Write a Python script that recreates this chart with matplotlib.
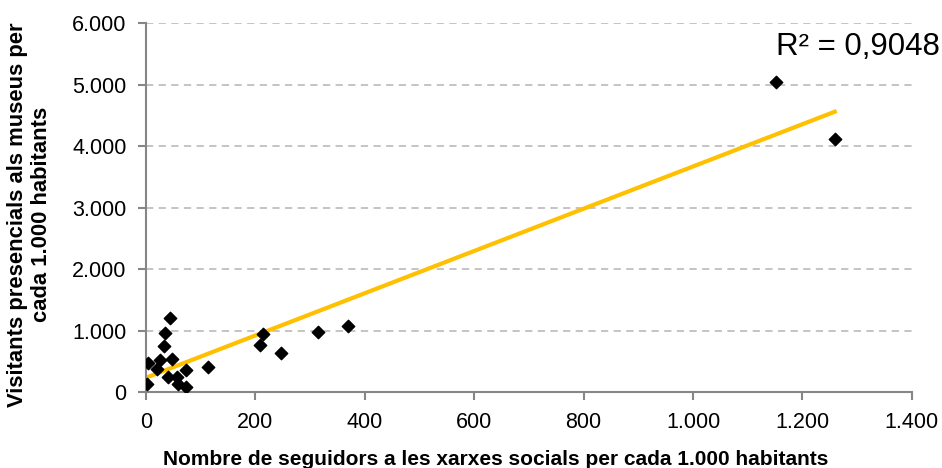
import numpy as np
import matplotlib
matplotlib.use('Agg')
import matplotlib.pyplot as plt
from matplotlib.ticker import FuncFormatter

plt.rcParams['font.family'] = ['Liberation Sans', 'DejaVu Sans']

# seguidors a les xarxes socials per cada 1.000 habitants
followers = [2, 4, 21, 26, 43, 35, 32, 47, 41, 56, 59, 73, 74, 113,
             208, 214, 246, 314, 370, 1152, 1259]
# visitants presencials per cada 1.000 habitants
visitors = [141, 476, 370, 520, 1215, 955, 753, 532, 249, 239, 141, 369, 86, 402,
            764, 954, 639, 980, 1078, 5046, 4125]

r2_text = "R² = 0,9048"
xlabel = "Nombre de seguidors a les xarxes socials per cada 1.000 habitants"
ylabel = "Visitants presencials als museus per\ncada 1.000 habitants"


def thousands(v, pos):
    return f"{int(v):,}".replace(",", ".")


def main():
    fig = plt.figure(figsize=(9.42, 4.68), dpi=100)
    ax = fig.add_axes([0.155, 0.162, 0.813, 0.788])

    x = np.array(followers)
    y = np.array(visitors)
    slope, intercept = np.polyfit(x, y, 1)
    xs = np.array([0, x.max()])
    ax.plot(xs, slope * xs + intercept, color='#FFC000', lw=3, zorder=2)
    ax.scatter(x, y, marker='D', s=40, color='black', zorder=3)

    ax.set_xlim(0, 1400)
    ax.set_ylim(0, 6000)
    ax.set_xticks(range(0, 1401, 200))
    ax.set_yticks(range(0, 6001, 1000))
    ax.xaxis.set_major_formatter(FuncFormatter(thousands))
    ax.yaxis.set_major_formatter(FuncFormatter(thousands))
    ax.grid(axis='y', color='#BFBFBF', ls=(0, (4, 3)), lw=1.3)
    ax.set_axisbelow(True)

    for s in ['top', 'right']:
        ax.spines[s].set_visible(False)
    for s in ['left', 'bottom']:
        ax.spines[s].set_color('#868686')
        ax.spines[s].set_linewidth(1.5)
    ax.tick_params(colors='#868686', labelcolor='black', labelsize=15.5,
                   length=6, width=1.5, direction='out')
    ax.tick_params(axis='y', pad=8)
    ax.tick_params(axis='x', pad=8)

    ax.set_xlabel(xlabel, fontsize=15, fontweight='bold')
    ax.set_ylabel(ylabel, fontsize=15.8, fontweight='bold', linespacing=1.15)
    ax.xaxis.set_label_coords(0.457, -0.157)
    ax.yaxis.set_label_coords(-0.123, 0.482)

    ax.text(940 / 942, 1 - 47 / 468, r2_text, fontsize=22.5, ha='right', va='center',
            transform=fig.transFigure)

    fig.savefig('out.png', dpi=100)


if __name__ == "__main__":
    main()
